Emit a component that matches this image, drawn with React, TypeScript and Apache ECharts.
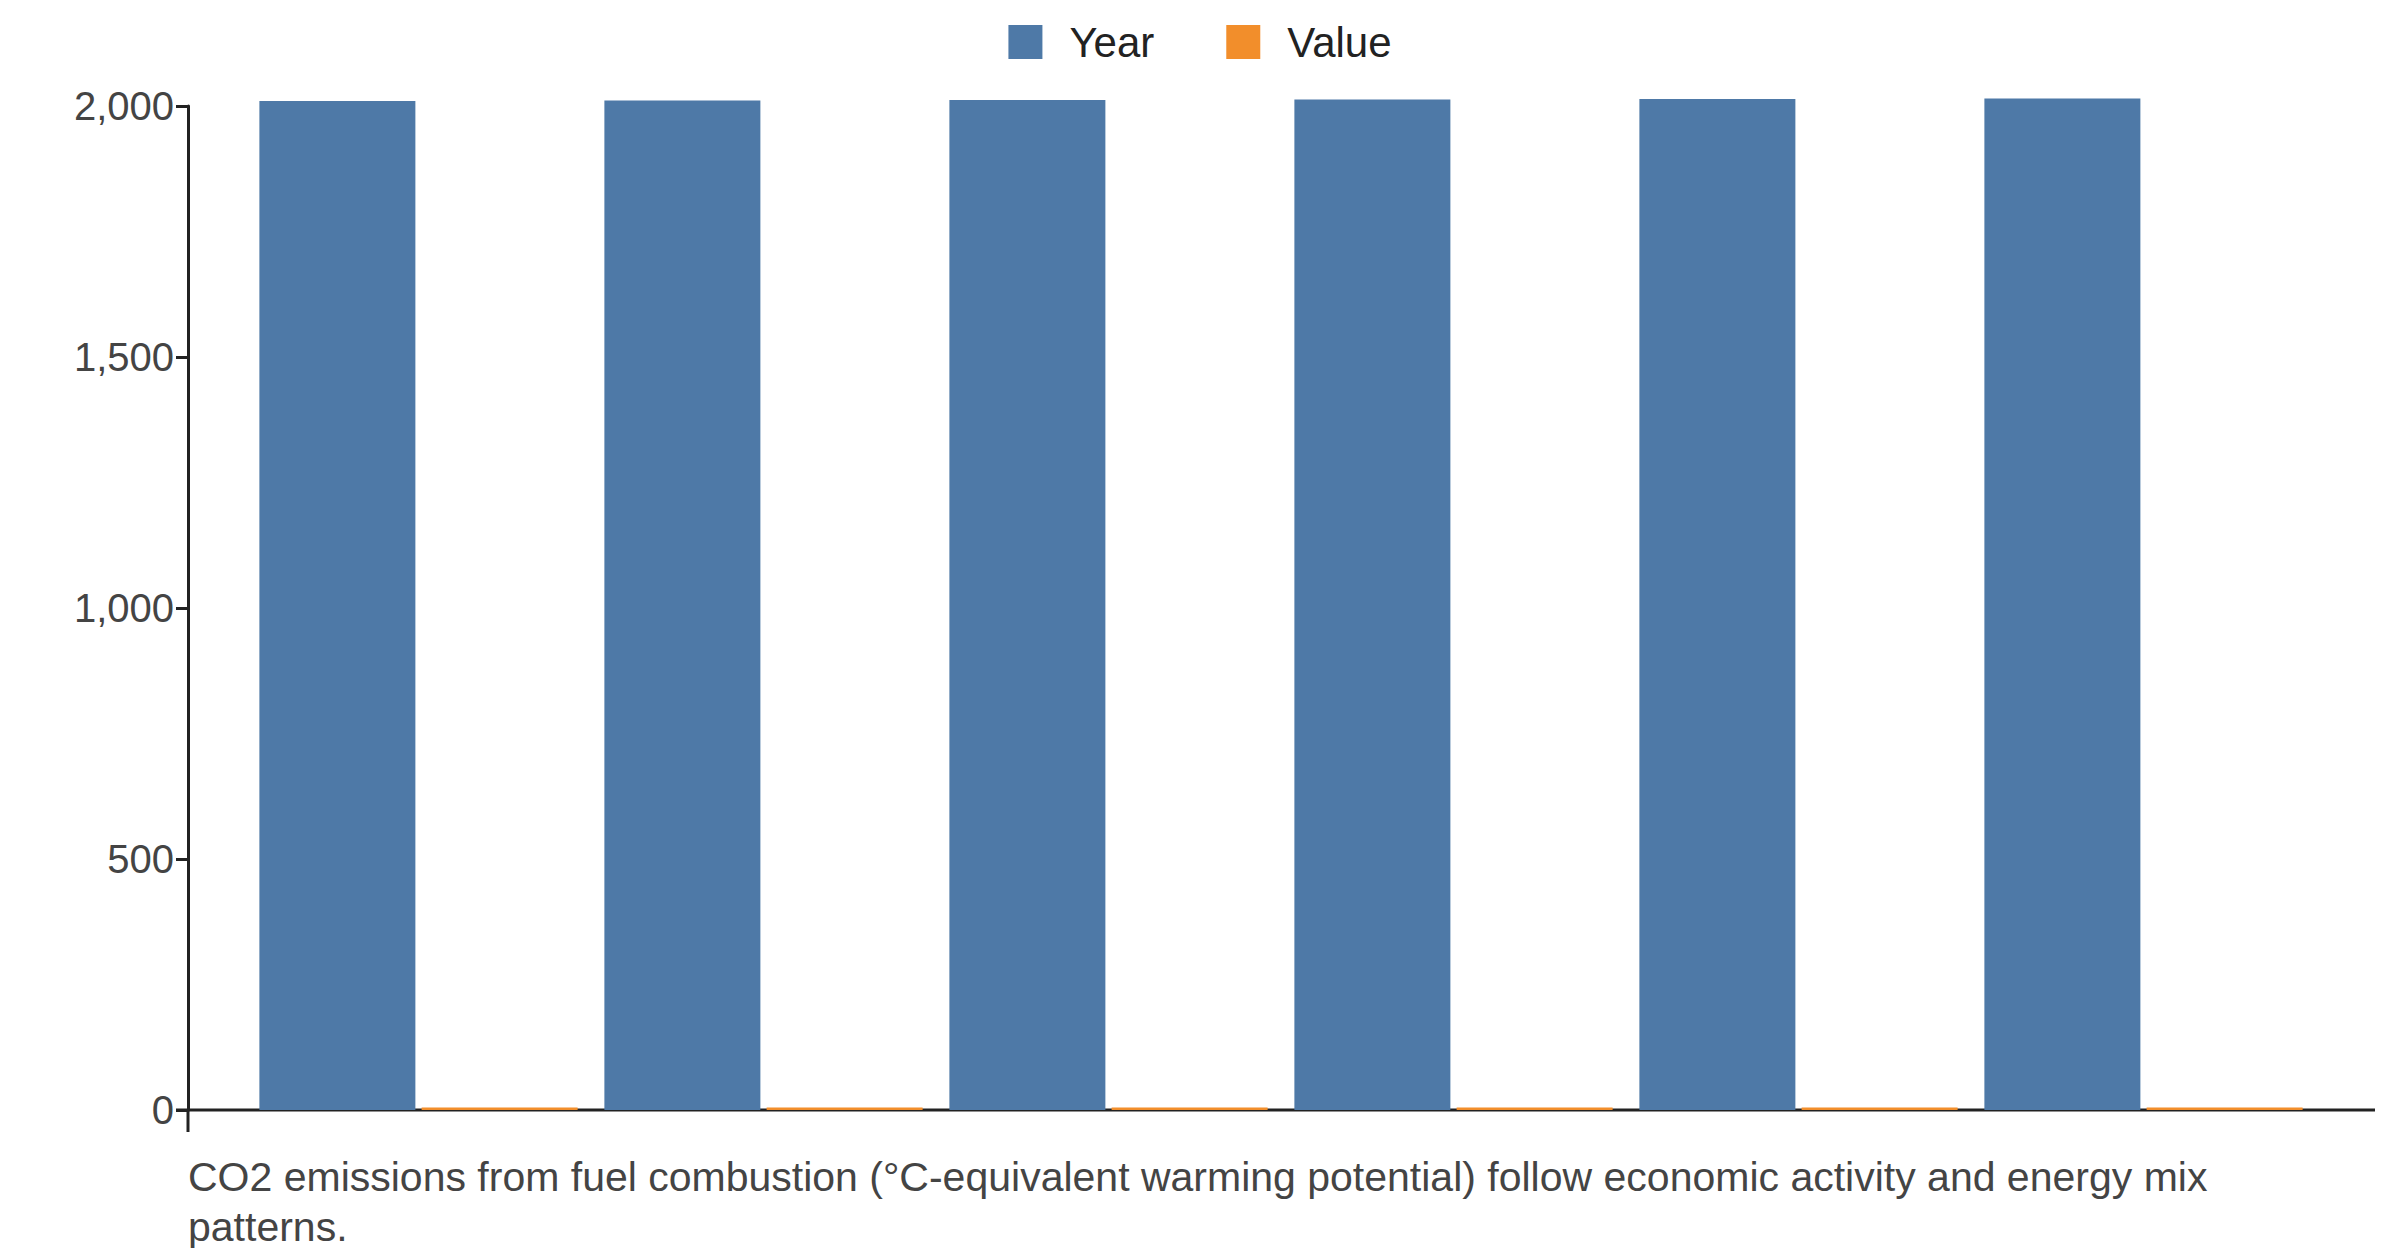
import { useEffect, useRef } from 'react';
import * as echarts from 'echarts';

const categories = ['1', '2', '3', '4', '5', '6'];
const yearValues = [2010, 2011, 2012, 2013, 2014, 2015];
const valueValues = [5, 5, 5, 5, 5, 5];
const yTicks = [0, 500, 1000, 1500, 2000];

export default function App() {
  const chartRef = useRef<HTMLDivElement>(null);

  useEffect(() => {
    if (!chartRef.current) return;
    const chart = echarts.init(chartRef.current, undefined, { renderer: 'svg' });
    const font = 'Arial, "Liberation Sans", sans-serif';

    chart.setOption({
      animation: false,
      textStyle: { fontFamily: font },
      legend: {
        top: 8,
        left: 'center',
        itemWidth: 34,
        itemHeight: 34,
        itemGap: 72,
        icon: 'rect',
        textStyle: { fontSize: 42, color: '#222', padding: [0, 0, 0, 22] },
        data: ['Year', 'Value'],
      },
      grid: { left: 238, right: 76, top: 98, bottom: 138 },
      xAxis: {
        type: 'category',
        data: categories,
        axisLine: { show: false },
        axisTick: { show: false },
        axisLabel: { show: false },
      },
      yAxis: {
        type: 'value',
        offset: 58,
        min: yTicks[0],
        max: yTicks[yTicks.length - 1],
        interval: 500,
        splitLine: { show: false },
        axisLine: { show: true, lineStyle: { color: '#222', width: 3 } },
        axisTick: { show: true, length: 12, lineStyle: { color: '#222', width: 3 } },
        axisLabel: { fontSize: 40, color: '#444', margin: 14 },
      },
      series: [
        {
          name: 'Year',
          type: 'bar',
          data: yearValues,
          clip: false,
          barWidth: 156,
          barGap: '4%',
          itemStyle: { color: '#4e79a7' },
        },
        {
          name: 'Value',
          type: 'bar',
          data: valueValues,
          clip: false,
          barWidth: 156,
          itemStyle: { color: '#f28e2b' },
        },
      ],
      graphic: [
        {
          type: 'line',
          shape: { x1: 168, y1: 1102, x2: 2367, y2: 1102 },
          style: { stroke: '#222', lineWidth: 3 },
        },
        {
          type: 'line',
          shape: { x1: 180, y1: 1102, x2: 180, y2: 1124 },
          style: { stroke: '#222', lineWidth: 3 },
        },
        {
          type: 'text',
          left: 180,
          top: 1144,
          style: {
            text: 'CO2 emissions from fuel combustion (°C-equivalent warming potential) follow economic activity and energy mix\npatterns.',
            fontSize: 41,
            lineHeight: 50,
            fill: '#444',
            fontFamily: font,
          },
        },
      ],
    });

    return () => chart.dispose();
  }, []);

  return <div ref={chartRef} style={{ width: 2384, height: 1240 }} />;
}
